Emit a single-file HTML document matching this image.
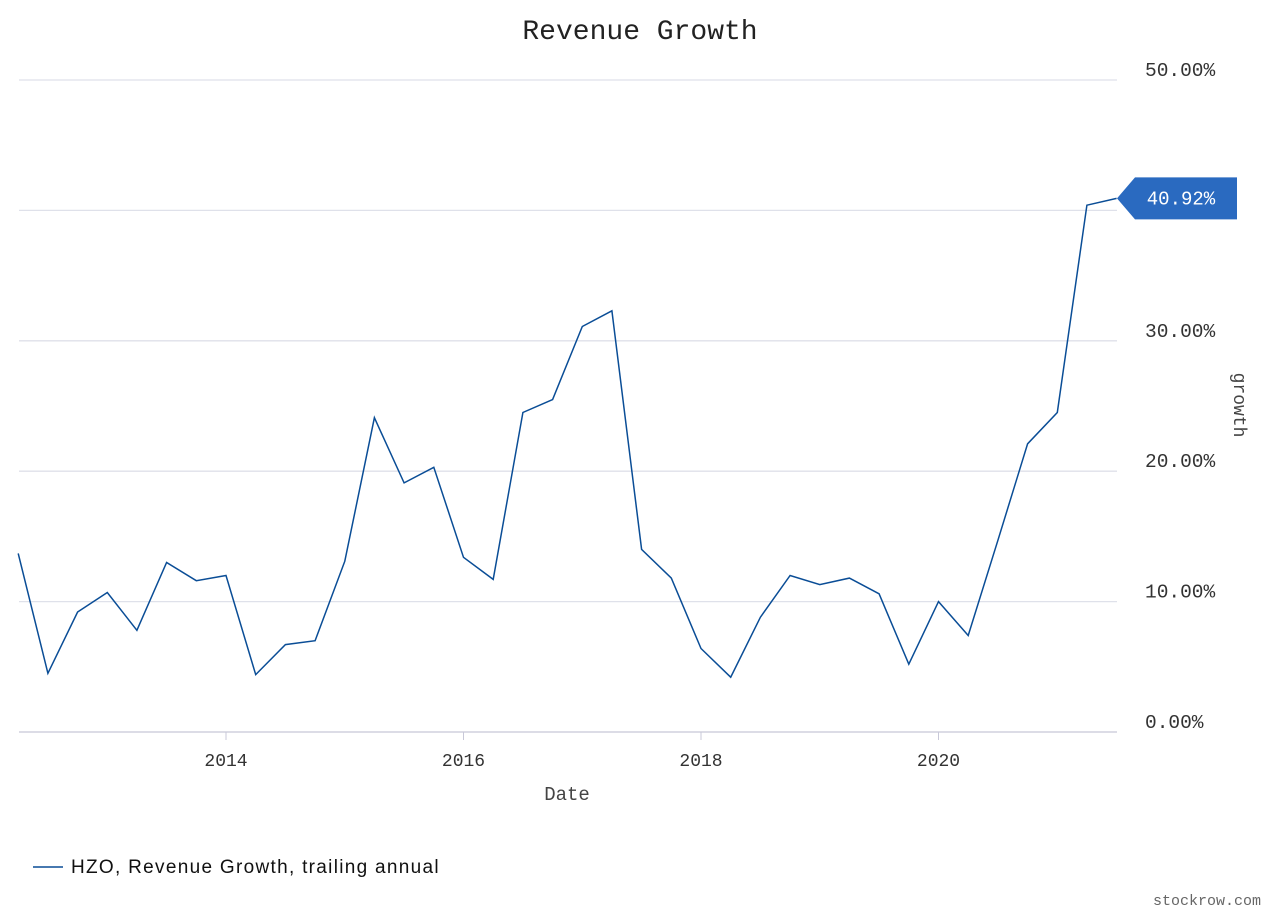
<!DOCTYPE html>
<html><head><meta charset="utf-8"><style>
body{margin:0;background:#fff;width:1280px;height:914px;overflow:hidden}
svg text{font-family:"Liberation Mono",monospace}
</style></head><body>
<svg width="1280" height="914">
<text x="640" y="39" text-anchor="middle" font-size="28" fill="#222">Revenue Growth</text>
<g id="grid"></g>
<g id="yticks"></g>
<g id="xticks"></g>
<text x="567" y="800" text-anchor="middle" font-size="19" fill="#444">Date</text>
<text transform="translate(1234,405) rotate(90)" text-anchor="middle" font-size="18" fill="#444">growth</text>
<path id="line" fill="none" stroke="#0a4d96" stroke-width="1.5"/>
<g id="tag"></g>
<line x1="33" y1="867" x2="63" y2="867" stroke="#0a4d96" stroke-width="1.5"/>
<text x="71" y="873" font-size="19" fill="#111" letter-spacing="1.3" style="font-family:'Liberation Sans',sans-serif">HZO, Revenue Growth, trailing annual</text>
<text x="1261" y="905" text-anchor="end" font-size="15" fill="#666">stockrow.com</text>
</svg>
<script>
const startYear = 2012.25;
const values = [13.7,4.5,9.2,10.7,7.8,13.0,11.6,12.0,4.4,6.7,7.0,13.1,24.1,19.1,20.3,13.4,11.7,24.5,25.5,31.1,32.3,14.0,11.8,6.4,4.2,8.8,12.0,11.3,11.8,10.6,5.2,10.0,7.4,14.7,22.1,24.5,40.4,40.92];
const yTicks = [0,10,20,30,40,50];
const xTicks = [2014,2016,2018,2020];
const ns="http://www.w3.org/2000/svg";
const X=t=>226+(t-2014)*118.75;
const Y=v=>732-v*13.04;
function mk(tag,attrs,parent,txt){const e=document.createElementNS(ns,tag);for(const k in attrs)e.setAttribute(k,attrs[k]);if(txt!==undefined)e.textContent=txt;parent.appendChild(e);return e;}
const grid=document.getElementById('grid'),yt=document.getElementById('yticks'),xt=document.getElementById('xticks');
yTicks.forEach(v=>{
 const l=mk('line',{x1:19,x2:1117,y1:Y(v),y2:Y(v),stroke:v===0?'#c8c8d8':'#dfe1ea','stroke-width':1.3},grid);
 
 
 if(v!==40){const t=mk('text',{x:1145,y:Y(v)-4,'font-size':19.5,fill:'#333'},yt,v.toFixed(2)+'%');
 
 }
});
xTicks.forEach(y=>{
 const l=mk('line',{x1:X(y),x2:X(y),y1:732,y2:740,stroke:'#c8c8d8'},xt);
 
 
 const t=mk('text',{x:X(y),y:766,'text-anchor':'middle','font-size':18,fill:'#333'},xt,String(y));
 
 
});
document.getElementById('line').setAttribute('d',values.map((v,i)=>(i?'L':'M')+X(startYear+i*0.25).toFixed(1)+','+Y(v).toFixed(1)).join(''));
const last=values[values.length-1],ly=Y(last),tag=document.getElementById('tag');
mk('path',{d:`M1117,${ly} L1135,${ly-21} L1237,${ly-21} L1237,${ly+21} L1135,${ly+21}Z`,fill:'#2a6ac0'},tag);
mk('text',{x:1181,y:ly+6,'text-anchor':'middle','font-size':19,fill:'#fff'},tag,last.toFixed(2)+'%');
</script>
</body></html>
